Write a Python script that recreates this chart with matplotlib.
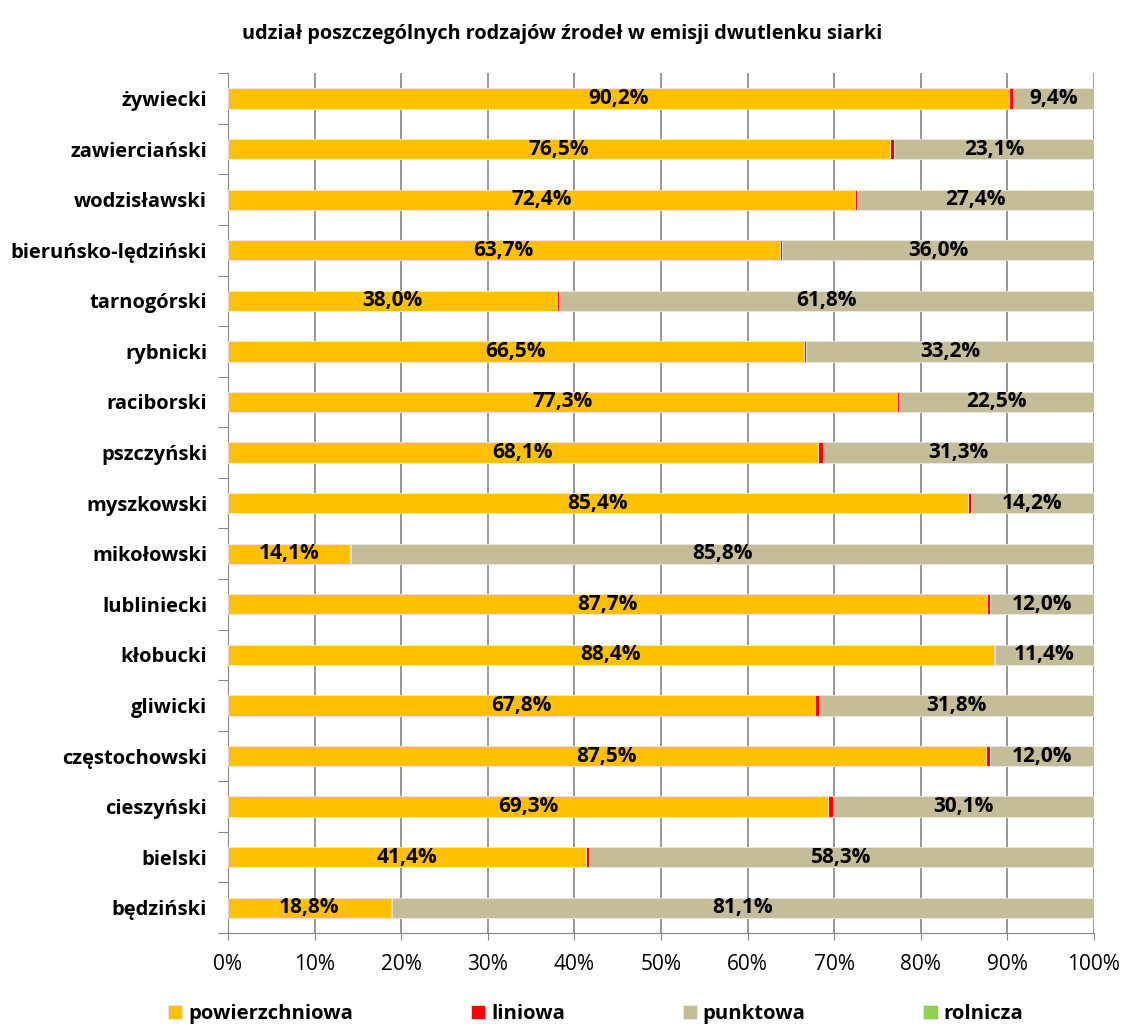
import numpy as np
import matplotlib.pyplot as plt
from matplotlib.ticker import PercentFormatter

plt.rcParams['font.family'] = ['Open Sans', 'DejaVu Sans']

# powiaty (bottom to top)
powiaty = ['będziński', 'bielski', 'cieszyński', 'częstochowski', 'gliwicki',
           'kłobucki', 'lubliniecki', 'mikołowski', 'myszkowski', 'pszczyński',
           'raciborski', 'rybnicki', 'tarnogórski', 'bieruńsko-lędziński',
           'wodzisławski', 'zawierciański', 'żywiecki']
powierzchniowa = [18.8, 41.4, 69.3, 87.5, 67.8, 88.4, 87.7, 14.1, 85.4, 68.1,
                  77.3, 66.5, 38.0, 63.7, 72.4, 76.5, 90.2]
liniowa = [0.1, 0.3, 0.6, 0.5, 0.4, 0.2, 0.3, 0.1, 0.4, 0.6,
           0.2, 0.3, 0.2, 0.3, 0.2, 0.4, 0.4]
punktowa = [81.1, 58.3, 30.1, 12.0, 31.8, 11.4, 12.0, 85.8, 14.2, 31.3,
            22.5, 33.2, 61.8, 36.0, 27.4, 23.1, 9.4]
rolnicza = [0.0] * 17

series = [('powierzchniowa', powierzchniowa, '#FFC000'),
          ('liniowa', liniowa, '#FF0000'),
          ('punktowa', punktowa, '#C4BD97'),
          ('rolnicza', rolnicza, '#92D050')]

fig = plt.figure(figsize=(11.24, 10.26), dpi=100)
ax = fig.add_axes([0.2028, 0.0906, 0.7705, 0.838])

y = np.arange(len(powiaty))
left = np.zeros(len(powiaty))
for name, vals, col in series:
    vals = np.array(vals)
    bars = ax.barh(y, vals, left=left, height=0.4, color=col,
                   edgecolor='#E8E8E8', linewidth=0.6, label=name, zorder=3)
    if name in ('powierzchniowa', 'punktowa'):
        labels = [f'{v:.1f}%'.replace('.', ',') for v in vals]
        ax.bar_label(bars, labels=labels, label_type='center',
                     fontsize=15, fontweight='bold', color='black')
    left += vals

ax.set_xlim(0, 100)
ax.set_ylim(-0.5, len(powiaty) - 0.5)
ax.xaxis.set_major_formatter(PercentFormatter(decimals=0))
ax.set_xticks(np.arange(0, 101, 10))
ax.tick_params(axis='x', labelsize=15, length=5, color='#868686', pad=10)

# category ticks between bars, labels at bar centres
ax.set_yticks(np.arange(-0.5, len(powiaty), 1))
ax.set_yticklabels([])
ax.set_yticks(y, minor=True)
ax.set_yticklabels(powiaty, minor=True, fontsize=14.5, fontweight='bold')
ax.tick_params(axis='y', which='major', length=7, color='#868686')
ax.tick_params(axis='y', which='minor', length=0, pad=15)

ax.grid(axis='x', color='#868686', linewidth=1.2, zorder=0)
for s in ['top', 'right']:
    ax.spines[s].set_visible(False)
ax.spines['left'].set_color('#868686')
ax.spines['bottom'].set_color('#868686')

fig.suptitle('udział poszczególnych rodzajów źrodeł w emisji dwutlenku siarki',
             fontsize=14.3, fontweight='bold', y=0.977)

leg = fig.legend(loc='lower center', ncol=4, frameon=False,
                 bbox_to_anchor=(0.53, -0.016), columnspacing=5.8,
                 handlelength=0.7, handleheight=0.7, handletextpad=0.3,
                 prop={'size': 14.6, 'weight': 'bold'})

fig.savefig('out.png', dpi=100)
